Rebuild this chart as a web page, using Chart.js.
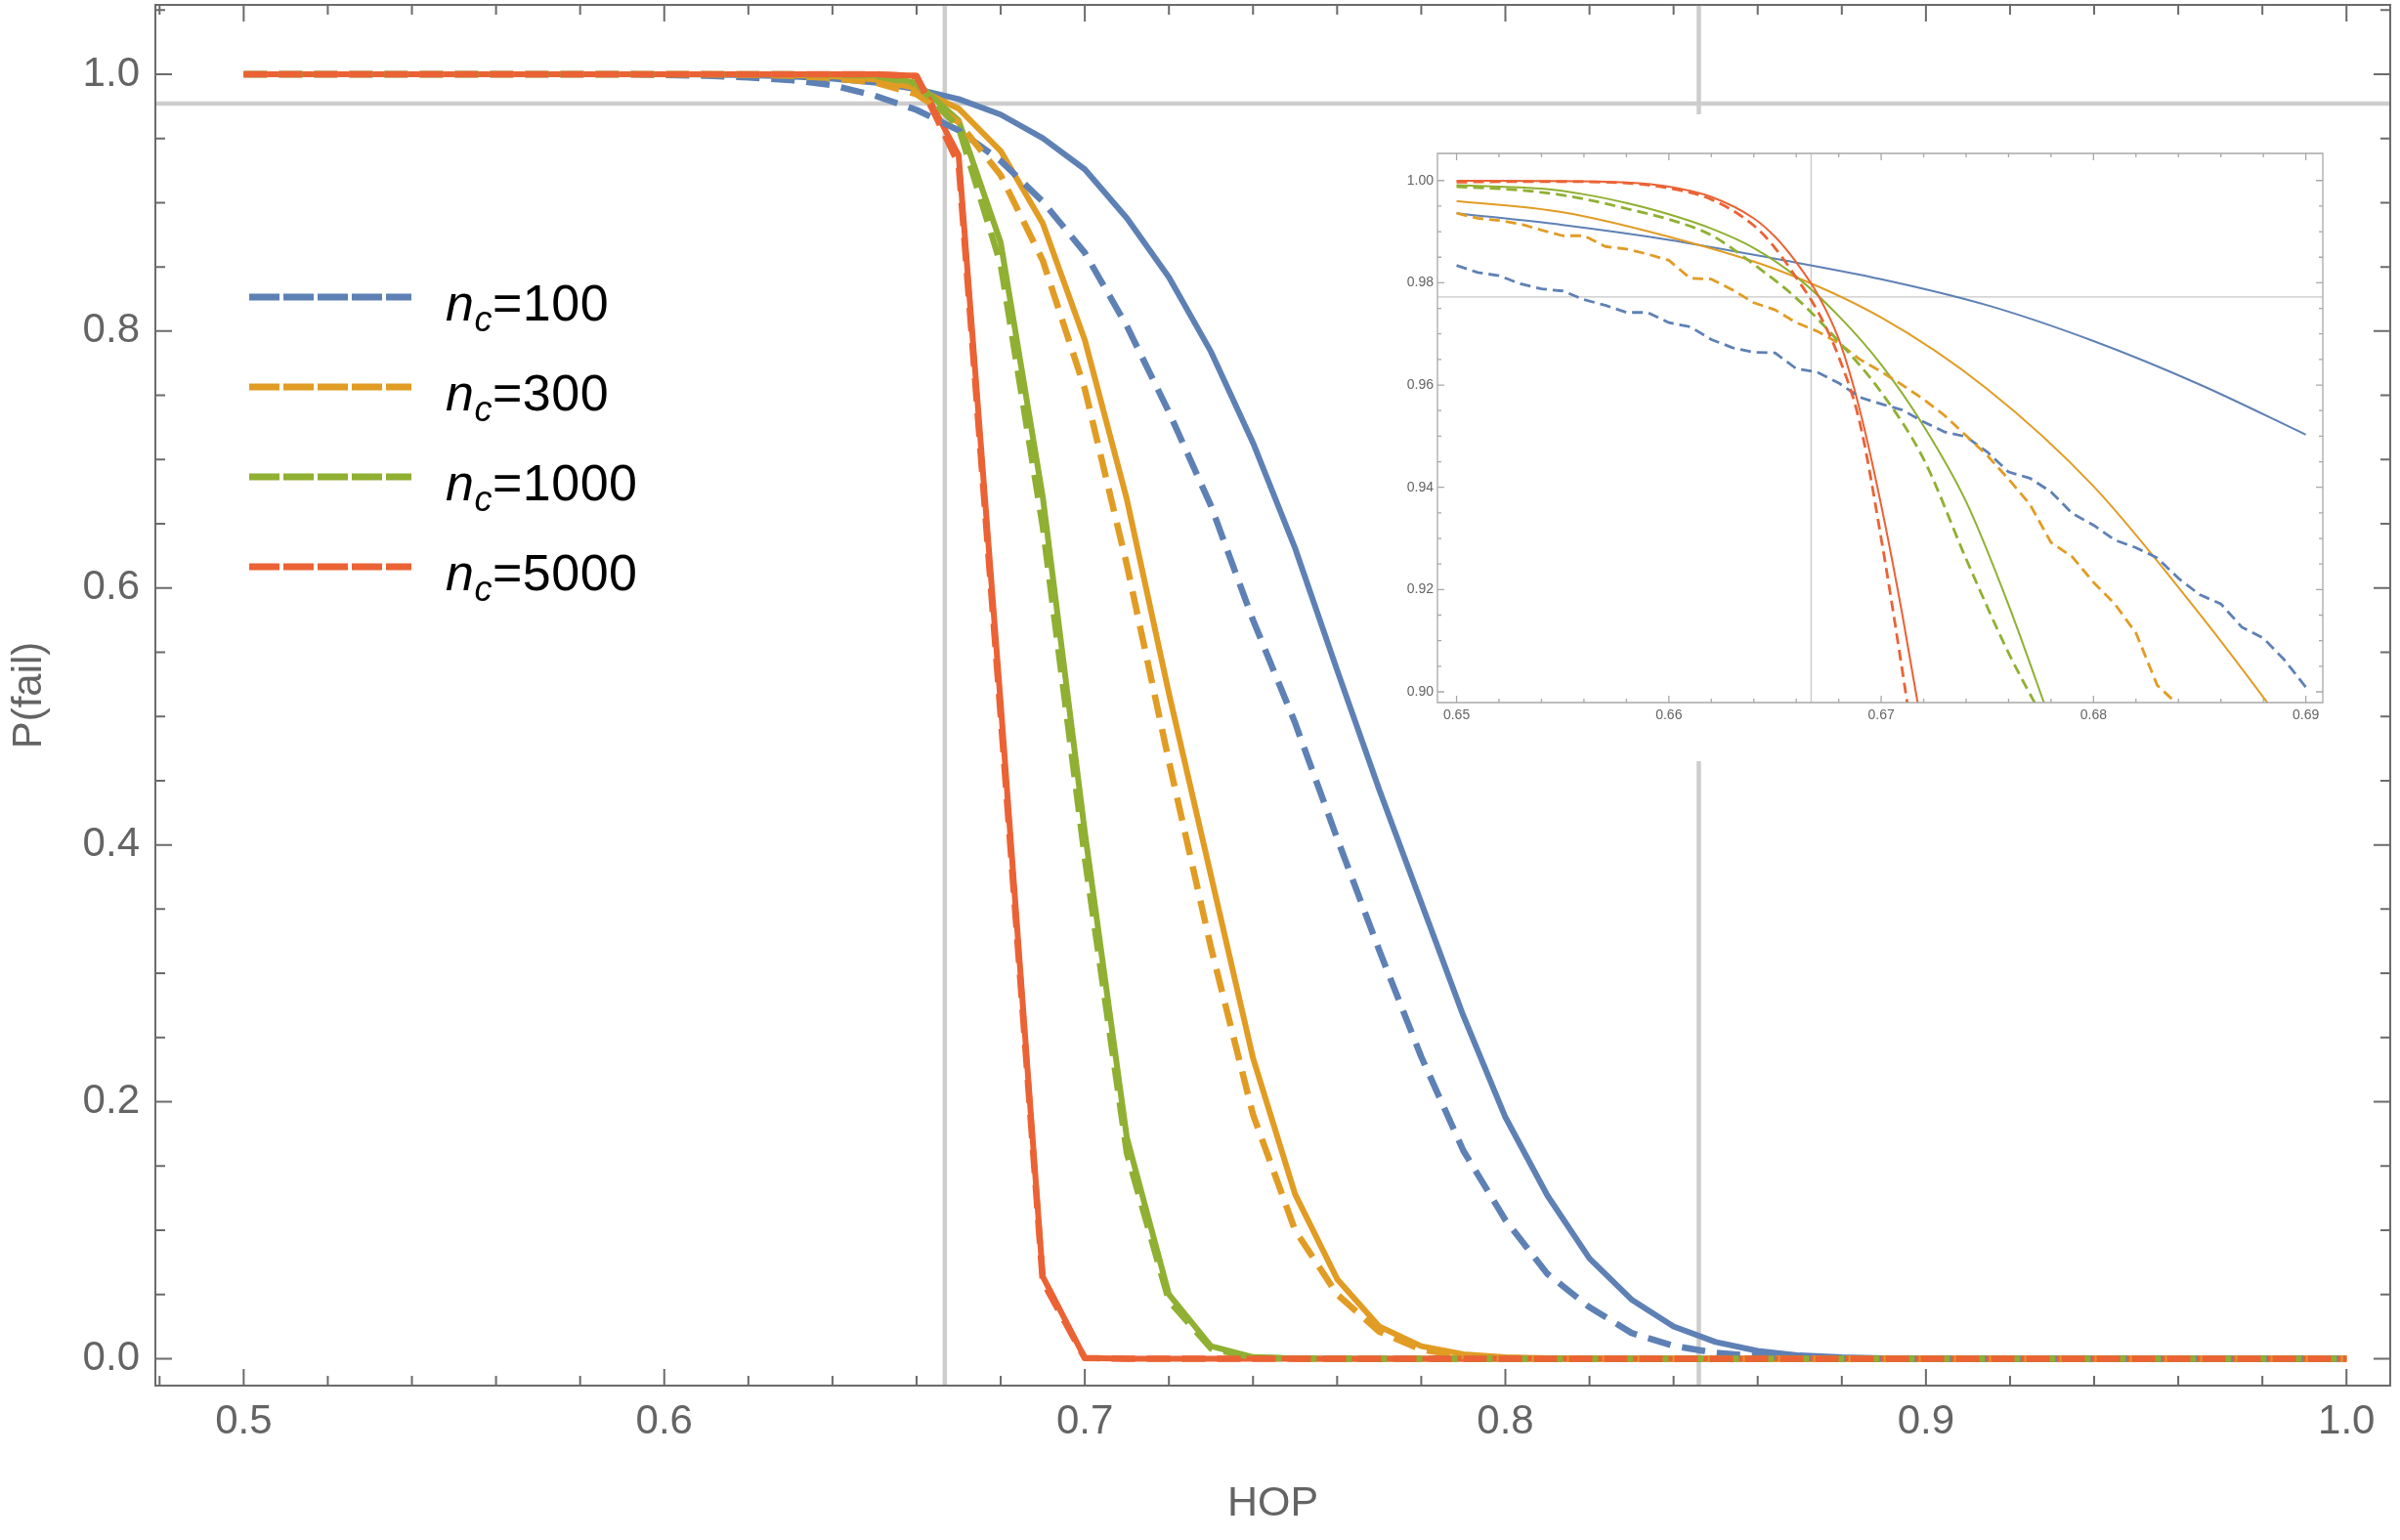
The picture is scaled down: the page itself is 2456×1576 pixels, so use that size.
<!DOCTYPE html>
<html><head><meta charset="utf-8">
<script src="https://cdn.jsdelivr.net/npm/chart.js@4.4.1/dist/chart.umd.min.js"></script>
<style>
html,body{margin:0;padding:0;background:#fff;}
#wrap{position:relative;width:2456px;height:1576px;overflow:hidden;background:#fff;}
#main{position:absolute;left:0;top:0;}
#insetBox{position:absolute;left:1436px;top:117px;width:964px;height:662px;background:#fff;}
#inset{position:absolute;left:0;top:0;}
.legsvg{position:absolute;}
.legtxt{position:absolute;font-family:"Liberation Sans",Arial,sans-serif;font-size:52px;line-height:52px;color:#000;white-space:nowrap;letter-spacing:0.5px;}
.legtxt .sb{font-size:36px;position:relative;top:11px;font-style:italic;}
</style></head>
<body><div id="wrap">
<canvas id="main" width="2456" height="1576"></canvas>
<div id="insetBox"><canvas id="inset" width="964" height="662"></canvas></div>
<div id="legend"></div>
</div>
<script>
// ---------- main data (HOP step 0.01) ----------
const hop = [0.50,0.51,0.52,0.53,0.54,0.55,0.56,0.57,0.58,0.59,0.60,0.61,0.62,0.63,0.64,0.65,0.66,0.67,0.68,0.69,0.70,0.71,0.72,0.73,0.74,0.75,0.76,0.77,0.78,0.79,0.80,0.81,0.82,0.83,0.84,0.85,0.86,0.87,0.88,0.89,0.90,0.91,0.92,0.93,0.94,0.95,0.96,0.97,0.98,0.99,1.00];
const nc = ["100","300","1000","5000"];
const colors = ["#5E81B5","#E19C24","#8FB032","#EB6235"];

const blueSolid = [1,1,1,1,1,1,1,1,1,1,1,0.9998,0.9993,0.9983,0.9965,0.9936,0.9884,0.9807,0.9686,0.9503,0.926,0.888,0.842,0.784,0.713,0.631,0.536,0.443,0.355,0.267,0.188,0.127,0.078,0.046,0.025,0.013,0.006,0.0025,0.001,0.0003,0,0,0,0,0,0,0,0,0,0,0];
const blueDashed = [1,1,1,1,1,1,1,1,1,1,0.9995,0.9988,0.9975,0.9955,0.9915,0.9834,0.9722,0.9563,0.9326,0.9009,0.861,0.804,0.737,0.664,0.575,0.495,0.405,0.318,0.235,0.162,0.108,0.066,0.040,0.020,0.010,0.0045,0.002,0.0007,0.0002,0,0,0,0,0,0,0,0,0,0,0,0];
const orangeSolid = [1,1,1,1,1,1,1,1,1,1,1,1,0.9999,0.9995,0.9985,0.9960,0.9890,0.9732,0.9402,0.884,0.793,0.669,0.518,0.376,0.234,0.128,0.062,0.025,0.0097,0.0034,0.001,0.0003,0,0,0,0,0,0,0,0,0,0,0,0,0,0,0,0,0,0,0];
const orangeDashed = [1,1,1,1,1,1,1,1,1,1,1,0.9999,0.9996,0.9988,0.997,0.9936,0.9844,0.9626,0.9214,0.855,0.755,0.618,0.465,0.32,0.19,0.10,0.05,0.021,0.007,0.002,0.0005,0,0,0,0,0,0,0,0,0,0,0,0,0,0,0,0,0,0,0,0];
const greenSolid = [1,1,1,1,1,1,1,1,1,1,1,1,1,0.9999,0.9997,0.9991,0.9934,0.9640,0.869,0.671,0.41,0.172,0.05,0.0097,0.0012,0.0001,0,0,0,0,0,0,0,0,0,0,0,0,0,0,0,0,0,0,0,0,0,0,0,0,0];
const greenDashed = [1,1,1,1,1,1,1,1,1,1,1,1,1,0.9999,0.9996,0.9988,0.9924,0.9586,0.852,0.648,0.39,0.16,0.045,0.008,0.0008,0.0001,0,0,0,0,0,0,0,0,0,0,0,0,0,0,0,0,0,0,0,0,0,0,0,0,0];
const redSolid = [1,1,1,1,1,1,1,1,1,1,1,1,1,1,1,1,0.9988,0.937,0.51,0.064,0.0005,0,0,0,0,0,0,0,0,0,0,0,0,0,0,0,0,0,0,0,0,0,0,0,0,0,0,0,0,0,0];
const redDashed = [1,1,1,1,1,1,1,1,1,1,1,1,1,1,1,1,0.9985,0.930,0.50,0.060,0.0004,0,0,0,0,0,0,0,0,0,0,0,0,0,0,0,0,0,0,0,0,0,0,0,0,0,0,0,0,0,0];

// reference lines
const refP = 0.97725;
const refHOP = [0.6667, 0.846];

// main axis ticks
const xMajor = [0.5,0.6,0.7,0.8,0.9,1.0];
const xMinor = [0.48,0.52,0.54,0.56,0.58,0.62,0.64,0.66,0.68,0.72,0.74,0.76,0.78,0.82,0.84,0.86,0.88,0.92,0.94,0.96,0.98];
const yMajor = [0.0,0.2,0.4,0.6,0.8,1.0];
const yMinor = [0.05,0.1,0.15,0.25,0.3,0.35,0.45,0.5,0.55,0.65,0.7,0.75,0.85,0.9,0.95,1.05];

// ---------- inset data ----------
const insetXfine = [0.650,0.651,0.652,0.653,0.654,0.655,0.656,0.657,0.658,0.659,0.660,0.661,0.662,0.663,0.664,0.665,0.666,0.667,0.668,0.669,0.670,0.671,0.672,0.673,0.674,0.675,0.676,0.677,0.678,0.679,0.680,0.681,0.682,0.683,0.684,0.685,0.686,0.687,0.688,0.689,0.690];
const insetBlueDashed = [0.9834,0.9820,0.9814,0.9798,0.9788,0.9784,0.9767,0.9756,0.9742,0.9742,0.9722,0.9714,0.9689,0.9673,0.9664,0.9663,0.9632,0.9625,0.9604,0.9576,0.9563,0.9551,0.9528,0.9508,0.9499,0.9469,0.9430,0.9418,0.9391,0.9349,0.9326,0.9297,0.9282,0.9262,0.9222,0.9190,0.9172,0.9126,0.9105,0.9062,0.9009];
const insetOrangeDashed = [0.9936,0.9926,0.9922,0.9915,0.9903,0.9892,0.9892,0.9871,0.9866,0.9856,0.9844,0.9809,0.9807,0.9786,0.9761,0.9747,0.9722,0.9705,0.9682,0.9650,0.9626,0.9600,0.9572,0.9540,0.9501,0.9462,0.9416,0.9367,0.9292,0.9264,0.9214,0.9172,0.9115,0.9013,0.8974];
const insetBlueSolidX = [0.650,0.655,0.660,0.665,0.670,0.675,0.680,0.685,0.690];
const insetBlueSolid = [0.9936,0.9913,0.9884,0.9847,0.9807,0.9756,0.9686,0.9601,0.9503];
const insetOrangeSolidX = [0.650,0.655,0.660,0.665,0.670,0.675,0.680,0.685,0.6875,0.690];
const insetOrangeSolid = [0.9960,0.9938,0.9890,0.9827,0.9732,0.9592,0.9402,0.9152,0.9017,0.8877];
const insetGreenX = [0.650,0.652,0.654,0.656,0.658,0.660,0.662,0.664,0.666,0.668,0.670,0.672,0.674,0.676,0.678];
const insetGreenSolid = [0.9991,0.9988,0.9984,0.9973,0.9956,0.9934,0.9906,0.9868,0.9812,0.9735,0.9640,0.9520,0.9372,0.9170,0.894];
const insetGreenDashed = [0.9988,0.9984,0.9977,0.9964,0.9945,0.9924,0.9893,0.9836,0.9770,0.9685,0.9586,0.9455,0.9260,0.9076,0.892];
const insetRedX = [0.650,0.654,0.658,0.660,0.662,0.664,0.665,0.666,0.667,0.668,0.669,0.670,0.671,0.672];
const insetRedSolid = [0.99995,0.9999,0.9996,0.9988,0.9968,0.9926,0.9890,0.9840,0.9778,0.9690,0.9550,0.9365,0.9150,0.891];
const insetRedDashed = [0.9997,0.9998,0.9995,0.9985,0.9963,0.9912,0.9868,0.9810,0.9745,0.9655,0.9525,0.9300,0.9040,0.876];

const insetXMajor = [0.65,0.66,0.67,0.68,0.69];
const insetXMinor = [0.652,0.654,0.656,0.658,0.662,0.664,0.666,0.668,0.672,0.674,0.676,0.678,0.682,0.684,0.686,0.688,0.690];
const insetYMajor = [0.90,0.92,0.94,0.96,0.98,1.00];
const insetYMinor = [0.905,0.91,0.915,0.925,0.93,0.935,0.945,0.95,0.955,0.965,0.97,0.975,0.985,0.99,0.995];

// ---------- helpers ----------
const pts = (xs, ys) => ys.map((y, i) => ({x: xs[i], y: y}));
const FONT = '"Liberation Sans", Arial, sans-serif';
const TXT = '#646464';

function refLinesPlugin(cfg){
  return {
    id: 'refLines',
    beforeDatasetsDraw(chart){
      const {ctx, chartArea: a, scales: {x, y}} = chart;
      ctx.save();
      ctx.strokeStyle = cfg.color; ctx.lineWidth = cfg.lw; ctx.lineCap = 'butt';
      ctx.beginPath();
      const py = y.getPixelForValue(cfg.p);
      ctx.moveTo(a.left, py); ctx.lineTo(a.right, py);
      cfg.xs.forEach(v => { const px = x.getPixelForValue(v); ctx.moveTo(px, a.top); ctx.lineTo(px, a.bottom); });
      ctx.stroke();
      ctx.restore();
    }
  };
}
function framePlugin(cfg){
  return {
    id: 'frameTicks',
    afterDatasetsDraw(chart){
      const {ctx, chartArea: a, scales: {x, y}} = chart;
      ctx.save();
      ctx.strokeStyle = cfg.color; ctx.lineWidth = cfg.lw; ctx.lineCap = 'butt';
      ctx.beginPath();
      const xt = (vals, len) => vals.forEach(v => { const px = x.getPixelForValue(v);
        if (px < a.left - 0.5 || px > a.right + 0.5) return;
        ctx.moveTo(px, a.bottom); ctx.lineTo(px, a.bottom - len);
        ctx.moveTo(px, a.top); ctx.lineTo(px, a.top + len); });
      const yt = (vals, len) => vals.forEach(v => { const py = y.getPixelForValue(v);
        if (py < a.top - 0.5 || py > a.bottom + 0.5) return;
        ctx.moveTo(a.left, py); ctx.lineTo(a.left + len, py);
        ctx.moveTo(a.right, py); ctx.lineTo(a.right - len, py); });
      xt(cfg.xMajor, cfg.major); xt(cfg.xMinor, cfg.minor);
      yt(cfg.yMajor, cfg.major); yt(cfg.yMinor, cfg.minor);
      ctx.stroke();
      ctx.beginPath();
      ctx.rect(a.left, a.top, a.right - a.left, a.bottom - a.top);
      ctx.stroke();
      ctx.restore();
    }
  };
}

// ---------- main chart ----------
const solidW = 6, dashW = 6.5, mainDash = [24, 12];
function ds(label, data, color, dashed, order, w, dash, smooth){
  return {label, data, borderColor: color, backgroundColor: color, borderWidth: w,
    borderDash: dashed ? dash : [], pointRadius: 0, pointHoverRadius: 0, fill: false,
    tension: 0, cubicInterpolationMode: smooth ? 'monotone' : 'default',
    borderCapStyle: 'butt', borderJoinStyle: 'round', order};
}
const mainSets = [
  ds('nc=100 theory', pts(hop, blueSolid), colors[0], false, 8, solidW),
  ds('nc=300 theory', pts(hop, orangeSolid), colors[1], false, 7, solidW),
  ds('nc=1000 theory', pts(hop, greenSolid), colors[2], false, 6, solidW),
  ds('nc=5000 theory', pts(hop, redSolid), colors[3], false, 5, solidW),
  ds('nc=100', pts(hop, blueDashed), colors[0], true, 4, dashW, mainDash),
  ds('nc=300', pts(hop, orangeDashed), colors[1], true, 3, dashW, mainDash),
  ds('nc=1000', pts(hop, greenDashed), colors[2], true, 2, dashW, mainDash),
  ds('nc=5000', pts(hop, redDashed), colors[3], true, 1, dashW, mainDash)
];

new Chart(document.getElementById('main'), {
  type: 'line',
  data: {datasets: mainSets},
  options: {
    responsive: false, animation: false, devicePixelRatio: 1,
    layout: {padding: {top: 5, right: 10, left: 0, bottom: 0}},
    plugins: {legend: {display: false}, tooltip: {enabled: false}},
    scales: {
      x: {type: 'linear', min: 0.479, max: 1.0104,
        grid: {display: false, drawTicks: false}, border: {display: false},
        afterFit(s){ s.height = 158; s.paddingLeft = 0; s.paddingRight = 0; },
        afterBuildTicks(s){ s.ticks = xMajor.map(v => ({value: v})); },
        ticks: {padding: 12, color: TXT, font: {family: FONT, size: 42}, maxRotation: 0, autoSkip: false,
          callback: v => Number(v).toFixed(1)},
        title: {display: true, text: 'HOP', color: TXT, font: {family: FONT, size: 43}, padding: {top: 0, bottom: 11}}
      },
      y: {type: 'linear', min: -0.021, max: 1.054,
        grid: {display: false, drawTicks: false}, border: {display: false},
        afterFit(s){ s.width = 159; s.paddingTop = 0; s.paddingBottom = 0; },
        afterBuildTicks(s){ s.ticks = yMajor.map(v => ({value: v})); },
        ticks: {padding: 16, color: TXT, font: {family: FONT, size: 42}, autoSkip: false,
          callback: v => Number(v).toFixed(1)},
        title: {display: true, text: 'P(fail)', color: TXT, font: {family: FONT, size: 42}, padding: {top: 5, bottom: 0}}
      }
    }
  },
  plugins: [
    refLinesPlugin({p: refP, xs: refHOP, color: '#cdcdcd', lw: 4.5}),
    framePlugin({color: '#6b6b6b', lw: 2, major: 17, minor: 10, xMajor, xMinor, yMajor, yMinor})
  ]
});

// ---------- inset chart ----------
const inW = 2, inDW = 2.8, inDash = [11, 6];
const insetSets = [
  ds('nc=100 theory', pts(insetBlueSolidX, insetBlueSolid), colors[0], false, 8, inW, null, true),
  ds('nc=300 theory', pts(insetOrangeSolidX, insetOrangeSolid), colors[1], false, 7, inW, null, true),
  ds('nc=1000 theory', pts(insetGreenX, insetGreenSolid), colors[2], false, 6, inW, null, true),
  ds('nc=5000 theory', pts(insetRedX, insetRedSolid), colors[3], false, 5, inW, null, true),
  ds('nc=100', pts(insetXfine, insetBlueDashed), colors[0], true, 4, inDW, inDash, false),
  ds('nc=300', pts(insetXfine, insetOrangeDashed), colors[1], true, 3, inDW, inDash, false),
  ds('nc=1000', pts(insetGreenX, insetGreenDashed), colors[2], true, 2, inDW, inDash, true),
  ds('nc=5000', pts(insetRedX, insetRedDashed), colors[3], true, 1, inDW, inDash, true)
];
new Chart(document.getElementById('inset'), {
  type: 'line',
  data: {datasets: insetSets},
  options: {
    responsive: false, animation: false, devicePixelRatio: 1,
    layout: {padding: {top: 40, right: 23, left: 0, bottom: 0}},
    plugins: {legend: {display: false}, tooltip: {enabled: false}},
    scales: {
      x: {type: 'linear', min: 0.6491, max: 0.6908,
        grid: {display: false, drawTicks: false}, border: {display: false},
        afterFit(s){ s.height = 60; s.paddingLeft = 0; s.paddingRight = 0; },
        afterBuildTicks(s){ s.ticks = insetXMajor.map(v => ({value: v})); },
        ticks: {padding: 5, color: TXT, font: {family: FONT, size: 14}, maxRotation: 0, autoSkip: false,
          callback: v => Number(v).toFixed(2)}
      },
      y: {type: 'linear', min: 0.8979, max: 1.0053,
        grid: {display: false, drawTicks: false}, border: {display: false},
        afterFit(s){ s.width = 35; s.paddingTop = 0; s.paddingBottom = 0; },
        afterBuildTicks(s){ s.ticks = insetYMajor.map(v => ({value: v})); },
        ticks: {padding: 4, color: TXT, font: {family: FONT, size: 14}, autoSkip: false,
          callback: v => Number(v).toFixed(2)}
      }
    }
  },
  plugins: [
    refLinesPlugin({p: refP, xs: [refHOP[0]], color: '#c8c8c8', lw: 1.3}),
    framePlugin({color: '#a8a8a8', lw: 1.3, major: 7, minor: 4,
      xMajor: insetXMajor, xMinor: insetXMinor, yMajor: insetYMajor, yMinor: insetYMinor})
  ]
});

// ---------- legend (HTML) ----------
const legY = [304, 396, 488, 579.5];
const legend = document.getElementById('legend');
nc.forEach((n, i) => {
  const y = legY[i];
  const svg = document.createElementNS('http://www.w3.org/2000/svg', 'svg');
  svg.setAttribute('class', 'legsvg');
  svg.setAttribute('width', '170'); svg.setAttribute('height', '12');
  svg.style.left = '255px'; svg.style.top = (y - 6) + 'px';
  const ln = document.createElementNS('http://www.w3.org/2000/svg', 'line');
  ln.setAttribute('x1', '0'); ln.setAttribute('x2', '166');
  ln.setAttribute('y1', '6'); ln.setAttribute('y2', '6');
  ln.setAttribute('stroke', colors[i]); ln.setAttribute('stroke-width', '7');
  ln.setAttribute('stroke-dasharray', '31 4');
  svg.appendChild(ln);
  legend.appendChild(svg);
  const t = document.createElement('div');
  t.className = 'legtxt';
  t.style.left = '456px'; t.style.top = (y - 20) + 'px';
  t.innerHTML = '<i>n</i><span class="sb">c</span>=' + n;
  legend.appendChild(t);
});
</script>
</body></html>
